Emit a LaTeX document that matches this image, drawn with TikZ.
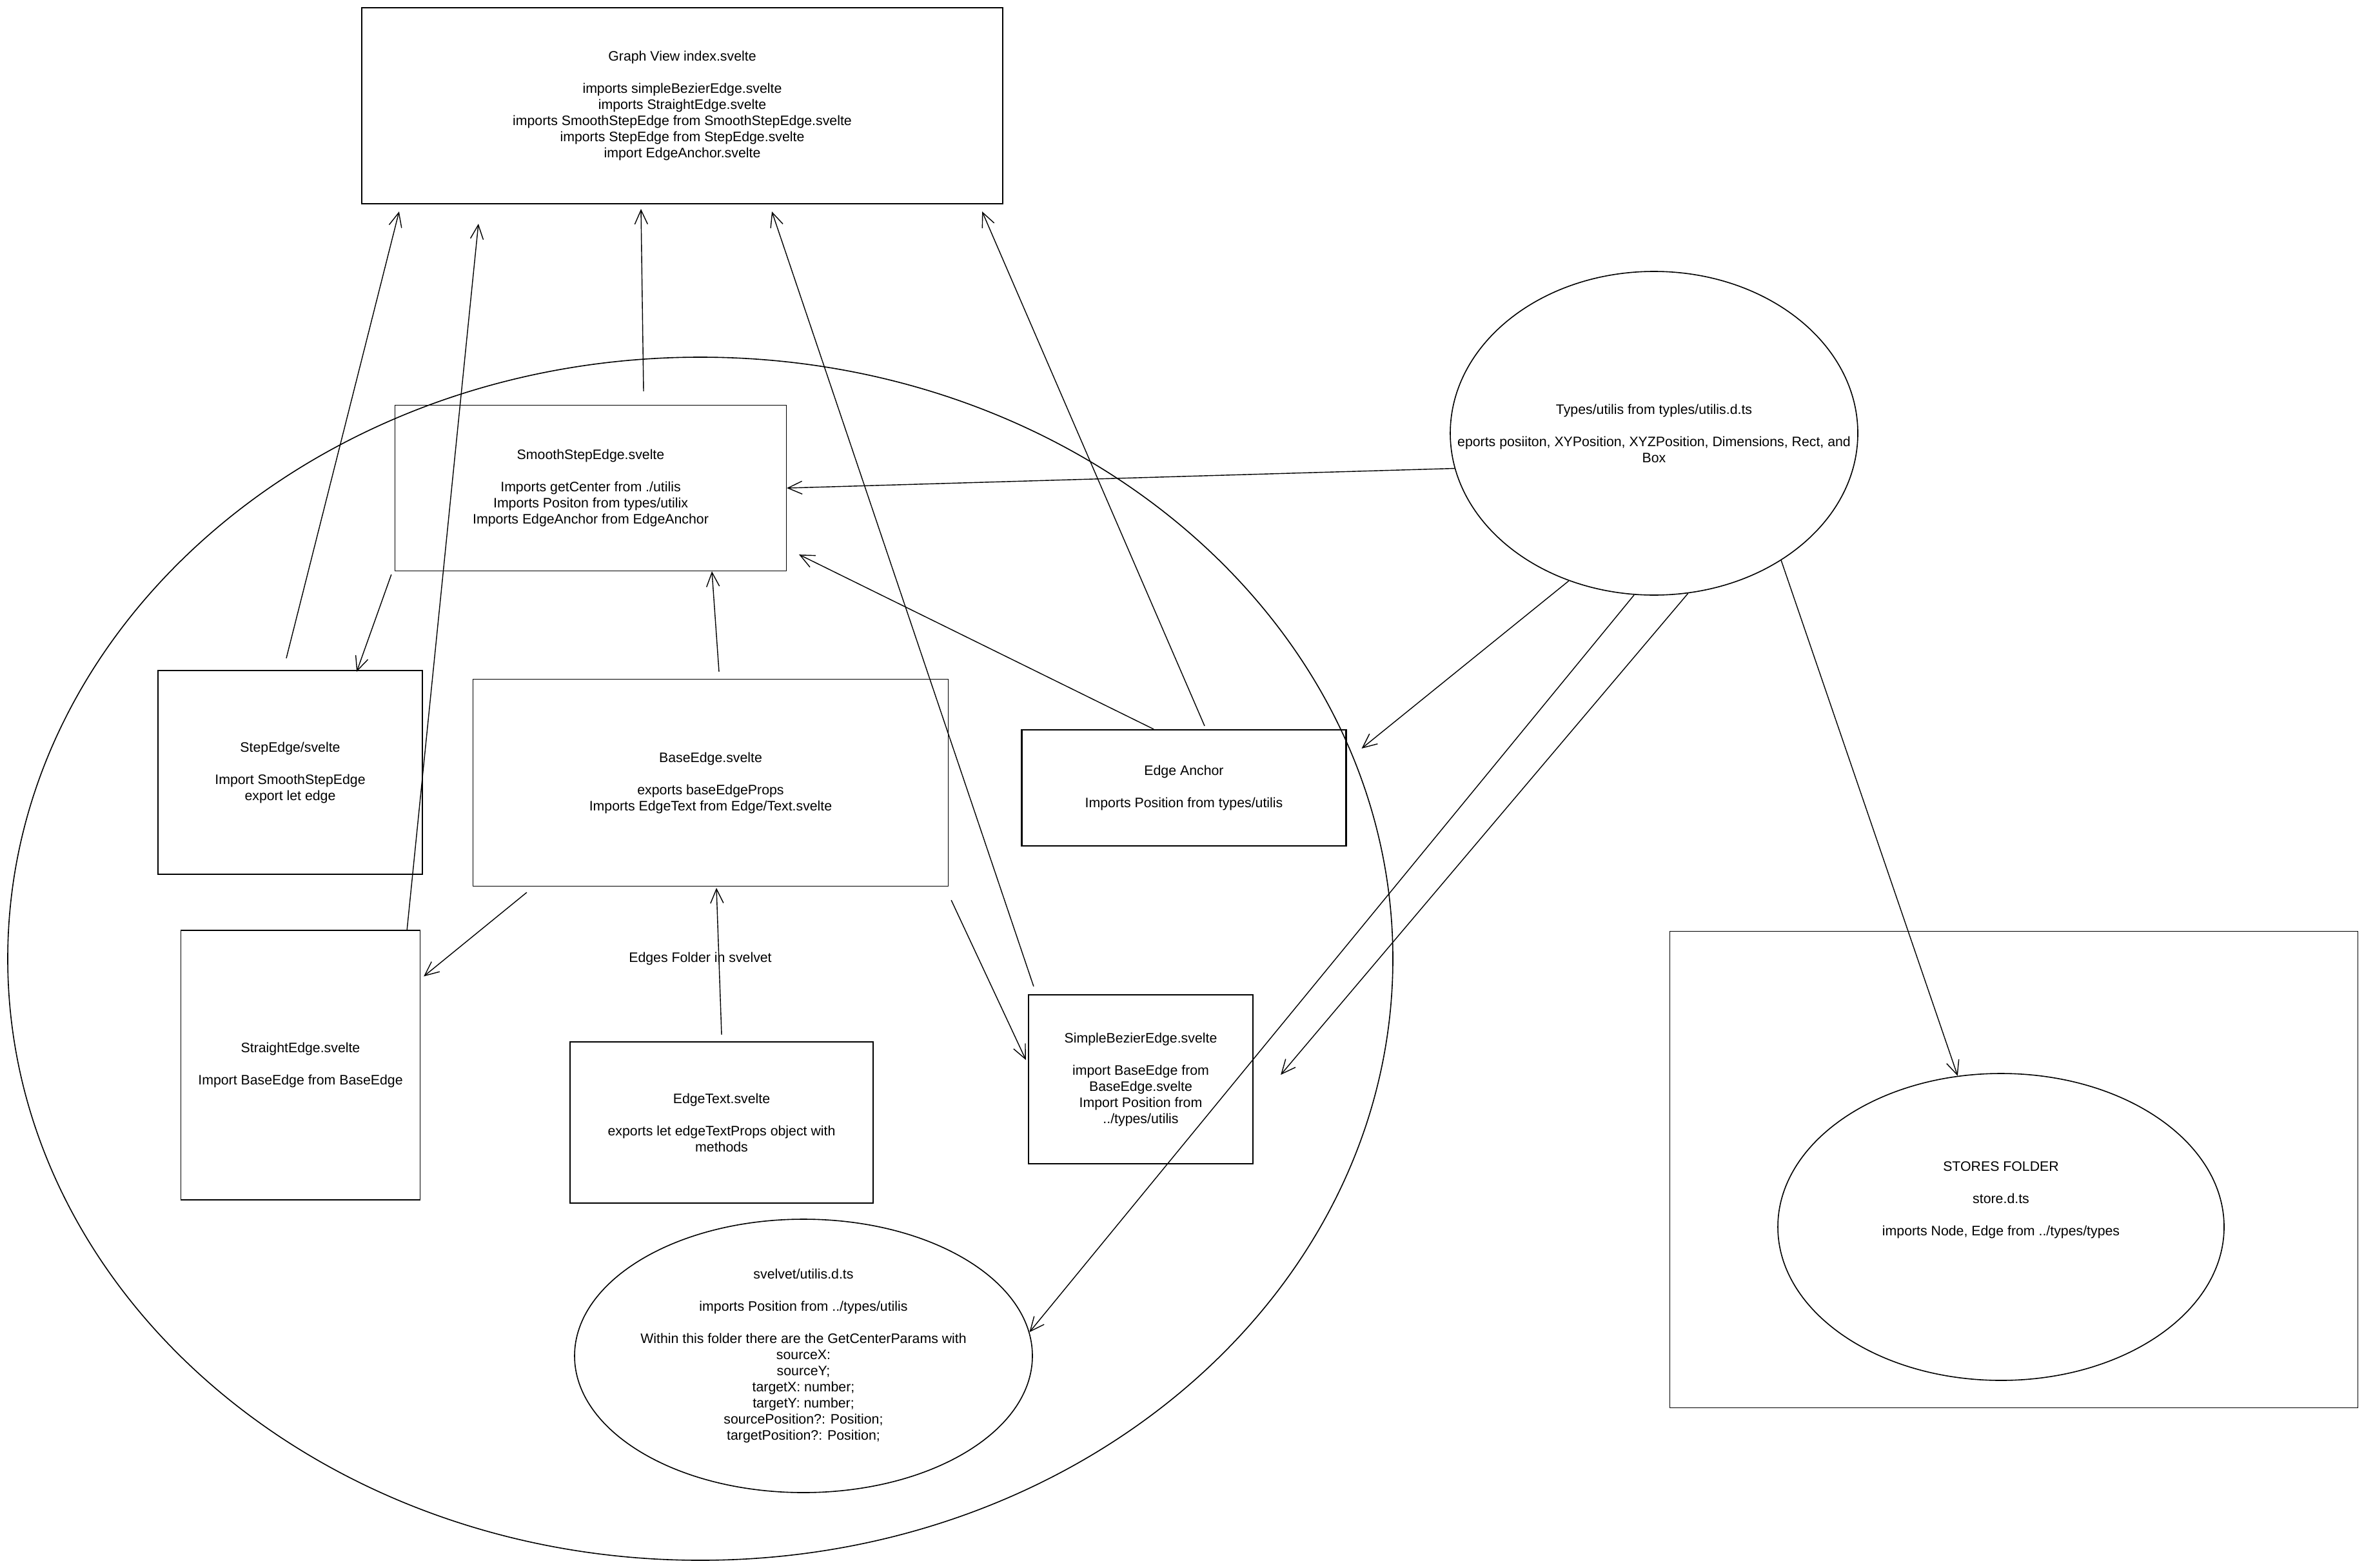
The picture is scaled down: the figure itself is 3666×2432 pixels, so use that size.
\documentclass[tikz,border=0pt]{standalone}
\usepackage{fontspec}
\setmainfont{Liberation Sans}
\usepackage{xcolor}
\usepackage{tikz}
\usetikzlibrary{shapes,arrows,arrows.meta,positioning}

\tikzset{
    filebox/.style={draw, line width=2.2pt, rectangle, inner sep=0pt, align=center},
    thinbox/.style={filebox, line width=1.3pt},
    oval/.style={draw, line width=1.6pt, ellipse, inner sep=0pt},
    ovaltext/.style={align=center, inner sep=0pt},
    link/.style={->, line width=1.4pt},
    >={Straight Barb[length=22pt,width=20pt]}
}

\begin{document}
\begin{tikzpicture}[x=1pt, y=-1pt, font=\fontsize{21.3}{25}\selectfont]
                \useasboundingbox (0,0) rectangle (3666,2432);

                % folder outline
                \node[
                    oval,
                    minimum width=2148pt,
                    minimum height=1866pt
                    ] (folder) at (1086,1487) {Edges Folder in svelvet};

                \node[
                    filebox,
                    minimum width=994pt,
                    minimum height=304pt
                    ] (graph) at (1058,164) {Graph View index.svelte\\[25pt]
                    imports simpleBezierEdge.svelte\\
                    imports StraightEdge.svelte\\
                    imports SmoothStepEdge from SmoothStepEdge.svelte\\
                    imports StepEdge from StepEdge.svelte\\
                    import EdgeAnchor.svelte};

                \node[
                    thinbox,
                    minimum width=607pt,
                    minimum height=257pt
                    ] (smooth) at (916,757) {SmoothStepEdge.svelte\\[25pt]
                    Imports getCenter from ./utilis\\
                    Imports Positon from types/utilix\\
                    Imports EdgeAnchor from EdgeAnchor};

                \node[
                    filebox,
                    minimum width=410pt,
                    minimum height=316pt
                    ] (stepedge) at (450,1198) {StepEdge/svelte\\[25pt]
                    Import SmoothStepEdge\\
                    export let edge};

                \node[
                    thinbox,
                    minimum width=737pt,
                    minimum height=321pt
                    ] (base) at (1102,1214) {BaseEdge.svelte\\[25pt]
                    exports baseEdgeProps\\
                    Imports EdgeText from Edge/Text.svelte};

                \node[
                    filebox,
                    minimum width=503pt,
                    minimum height=180pt
                    ] (anchor) at (1836,1222) {Edge Anchor\\[25pt]
                    Imports Position from types/utilis};

                \node[
                    thinbox,
                    minimum width=371pt,
                    minimum height=418pt
                    ] (straight) at (466,1652) {StraightEdge.svelte\\[25pt]
                    Import BaseEdge from BaseEdge};

                \node[
                    filebox,
                    minimum width=470pt,
                    minimum height=250pt
                    ] (edgetext) at (1119,1741) {EdgeText.svelte\\[25pt]
                    exports let edgeTextProps object with\\
                    methods};

                \node[
                    filebox,
                    minimum width=348pt,
                    minimum height=262pt
                    ] (bezier) at (1769,1674) {SimpleBezierEdge.svelte\\[25pt]
                    import BaseEdge from\\
                    BaseEdge.svelte\\
                    Import Position from\\
                    ../types/utilis};

                % utils ovals
                \node[
                    oval,
                    minimum width=710pt,
                    minimum height=424pt
                    ] (utils) at (1246,2103) {};
                \node[ovaltext] (utilstext) at (utils) {svelvet/utilis.d.ts\\[25pt]
                    imports Position from ../types/utilis\\[25pt]
                    Within this folder there are the GetCenterParams with\\
                    sourceX:\\
                    sourceY;\\
                    targetX: number;\\
                    targetY: number;\\
                    sourcePosition?: Position;\\
                    targetPosition?: Position;};

                \node[
                    oval,
                    minimum width=632pt,
                    minimum height=502pt
                    ] (types) at (2565,672) {};
                \node[ovaltext] (typestext) at (types) {Types/utilis from typles/utilis.d.ts\\[25pt]
                    eports posiiton, XYPosition, XYZPosition, Dimensions, Rect, and\\
                    Box};

                % stores folder
                \node[
                    thinbox,
                    minimum width=1067pt,
                    minimum height=739pt
                    ] (storesbox) at (3123,1814) {};

                \node[
                    oval,
                    minimum width=692pt,
                    minimum height=476pt
                    ] (stores) at (3103,1903) {};
                \node[ovaltext] (storestext) at (3103,1861) {STORES FOLDER\\[25pt]
                    store.d.ts\\[25pt]
                    imports Node, Edge from ../types/types};

                % imports into the graph view
                \draw[link] ([xshift=-6pt,yshift=18pt]stepedge.north) to ([xshift=59pt,yshift=-11pt]graph.south west);
                \draw[link] ([xshift=-21pt]straight.north east) to ([xshift=182pt,yshift=-30pt]graph.south west);
                \draw[link] ([xshift=82pt,yshift=21pt]smooth.north) to ([xshift=-64pt,yshift=-7pt]graph.south);
                \draw[link] ([xshift=9pt,yshift=12pt]bezier.north west) to ([xshift=139pt,yshift=-11pt]graph.south);
                \draw[link] ([xshift=32pt,yshift=5pt]anchor.north) to ([xshift=-33pt,yshift=-11pt]graph.south east);

                % inside the edges folder
                \draw[link] ([xshift=-5pt,yshift=-5pt]smooth.south west) to ([xshift=-103pt,yshift=-3pt]stepedge.north east);
                \draw[link] ([xshift=13pt,yshift=11pt]base.north) to ([xshift=188pt]smooth.south);
                \draw[link] ([xshift=-47pt]anchor.north) to ([xshift=19pt,yshift=26pt]smooth.south east);
                \draw[link] ([xshift=84pt,yshift=-9pt]base.south west) to ([xshift=5pt,yshift=-72pt]straight.north east);
                \draw[link] ([xshift=4pt,yshift=-21pt]base.south east) to ([xshift=-3pt,yshift=30pt]bezier.west);
                \draw[link] ([yshift=10pt]edgetext.north) to ([xshift=9pt,yshift=-2pt]base.south);

                % exports of types/utilis
                \draw[link] (types.190) to (smooth.east);
                \draw[link] (types.240) to ([xshift=23pt,yshift=-30pt]anchor.north east);
                \draw[link] (types.263) to (utils.6);
                \draw[link] (types.282) to ([xshift=42pt,yshift=7pt]bezier.east);
                \draw[link] (types.-45) to (stores.106);

            \end{tikzpicture}
\end{document}
